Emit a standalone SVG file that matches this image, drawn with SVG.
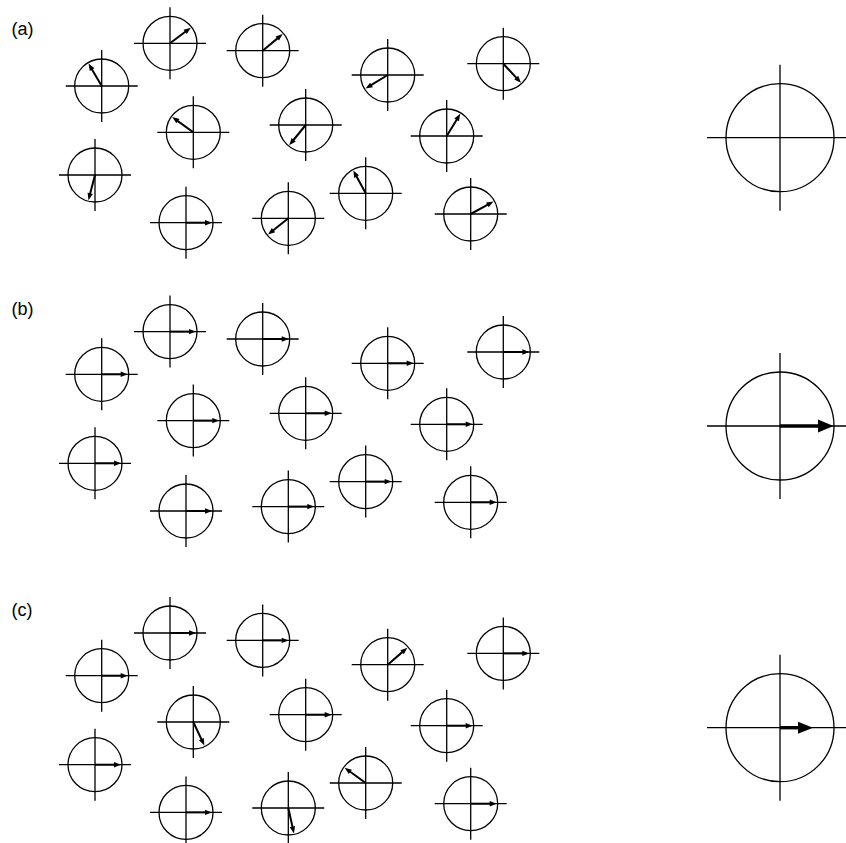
<svg xmlns="http://www.w3.org/2000/svg" xmlns:xlink="http://www.w3.org/1999/xlink" width="846" height="843" viewBox="0 0 846 843">
<style>
.lbl{font-family:"Liberation Sans",Arial,Helvetica,sans-serif;font-size:18px;fill:#000}
</style>
<defs>
<g id="dial" fill="none" stroke="#000" stroke-width="1.3"><circle r="27"/><path d="M-36 0H36M0-36V36"/></g>
<g id="arr"><path d="M0 0H20" stroke="#000" stroke-width="2" fill="none"/><path d="M19 -2.7L26 0L19 2.7Z" fill="#000"/></g>
<g id="bigdial" fill="none" stroke="#000" stroke-width="1.3"><circle r="54"/><path d="M-73 0H73M0-73V73"/></g>
</defs>
<rect width="846" height="843" fill="#fff"/>
<text class="lbl" x="11.5" y="35">(a)</text>
<text class="lbl" x="11.5" y="315">(b)</text>
<text class="lbl" x="11.5" y="615.5">(c)</text>

<g id="panel-a">
<g id="a1" transform="translate(170,43.3)"><use href="#dial"/><use href="#arr" transform="rotate(-36.9)"/></g>
<g id="a2" transform="translate(101.7,86)"><use href="#dial"/><use href="#arr" transform="rotate(-120.4)"/></g>
<g id="a3" transform="translate(193.3,132.3)"><use href="#dial"/><use href="#arr" transform="rotate(-144.1)"/></g>
<g id="a4" transform="translate(95,175)"><use href="#dial"/><use href="#arr" transform="rotate(104.5)"/></g>
<g id="a5" transform="translate(186,222.7)"><use href="#dial"/><use href="#arr"/></g>
<g id="a6" transform="translate(262.7,50.7)"><use href="#dial"/><use href="#arr" transform="rotate(-39.9)"/></g>
<g id="a7" transform="translate(387.7,75)"><use href="#dial"/><use href="#arr" transform="rotate(148.5)"/></g>
<g id="a8" transform="translate(503.3,63.7)"><use href="#dial"/><use href="#arr" transform="rotate(47.2)"/></g>
<g id="a9" transform="translate(305.7,125)"><use href="#dial"/><use href="#arr" transform="rotate(129.2)"/></g>
<g id="a10" transform="translate(446.7,136)"><use href="#dial"/><use href="#arr" transform="rotate(-58.5)"/></g>
<g id="a11" transform="translate(365.7,193.3)"><use href="#dial"/><use href="#arr" transform="rotate(-118.5)"/></g>
<g id="a12" transform="translate(288.3,218.3)"><use href="#dial"/><use href="#arr" transform="rotate(141.3)"/></g>
<g id="a13" transform="translate(470.7,214)"><use href="#dial"/><use href="#arr" transform="rotate(-28.5)"/></g>
<g id="a-total" transform="translate(780,137.7)"><use href="#bigdial"/></g>
</g>

<g id="panel-b" transform="translate(0,288.3)">
<g id="b1" transform="translate(170,43.3)"><use href="#dial"/><use href="#arr"/></g>
<g id="b2" transform="translate(101.7,86)"><use href="#dial"/><use href="#arr"/></g>
<g id="b3" transform="translate(193.3,132.3)"><use href="#dial"/><use href="#arr"/></g>
<g id="b4" transform="translate(95,175)"><use href="#dial"/><use href="#arr"/></g>
<g id="b5" transform="translate(186,222.7)"><use href="#dial"/><use href="#arr"/></g>
<g id="b6" transform="translate(262.7,50.7)"><use href="#dial"/><use href="#arr"/></g>
<g id="b7" transform="translate(387.7,75)"><use href="#dial"/><use href="#arr"/></g>
<g id="b8" transform="translate(503.3,63.7)"><use href="#dial"/><use href="#arr"/></g>
<g id="b9" transform="translate(305.7,125)"><use href="#dial"/><use href="#arr"/></g>
<g id="b10" transform="translate(446.7,136)"><use href="#dial"/><use href="#arr"/></g>
<g id="b11" transform="translate(365.7,193.3)"><use href="#dial"/><use href="#arr"/></g>
<g id="b12" transform="translate(288.3,218.3)"><use href="#dial"/><use href="#arr"/></g>
<g id="b13" transform="translate(470.7,214)"><use href="#dial"/><use href="#arr"/></g>
<g id="b-total" transform="translate(780,137.7)"><use href="#bigdial"/><path d="M0 0H39" stroke="#000" stroke-width="3.4"/><path d="M38 -6.5L53.5 0L38 6.5Z" fill="#000"/></g>
</g>

<g id="panel-c" transform="translate(0,589.7)">
<g id="c1" transform="translate(170,43.3)"><use href="#dial"/><use href="#arr"/></g>
<g id="c2" transform="translate(101.7,86)"><use href="#dial"/><use href="#arr"/></g>
<g id="c3" transform="translate(193.3,132.3)"><use href="#dial"/><use href="#arr" transform="rotate(64.8)"/></g>
<g id="c4" transform="translate(95,175)"><use href="#dial"/><use href="#arr"/></g>
<g id="c5" transform="translate(186,222.7)"><use href="#dial"/><use href="#arr"/></g>
<g id="c6" transform="translate(262.7,50.7)"><use href="#dial"/><use href="#arr"/></g>
<g id="c7" transform="translate(387.7,75)"><use href="#dial"/><use href="#arr" transform="rotate(-40.8)"/></g>
<g id="c8" transform="translate(503.3,63.7)"><use href="#dial"/><use href="#arr"/></g>
<g id="c9" transform="translate(305.7,125)"><use href="#dial"/><use href="#arr"/></g>
<g id="c10" transform="translate(446.7,136)"><use href="#dial"/><use href="#arr"/></g>
<g id="c11" transform="translate(365.7,193.3)"><use href="#dial"/><use href="#arr" transform="rotate(-144.1)"/></g>
<g id="c12" transform="translate(288.3,218.3)"><use href="#dial"/><use href="#arr" transform="rotate(77.5)"/></g>
<g id="c13" transform="translate(470.7,214)"><use href="#dial"/><use href="#arr"/></g>
<g id="c-total" transform="translate(780,138)"><use href="#bigdial"/><path d="M0 0H19" stroke="#000" stroke-width="3.4"/><path d="M18 -6L33 0L18 6Z" fill="#000"/></g>
</g>
</svg>
